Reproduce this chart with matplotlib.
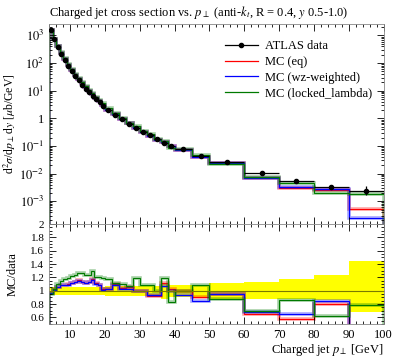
import matplotlib
matplotlib.use('Agg')
import matplotlib.pyplot as plt
from matplotlib.ticker import MultipleLocator, FuncFormatter, LogLocator, NullFormatter
from matplotlib.lines import Line2D
import numpy as np

plt.rcParams['font.family'] = ['Liberation Serif', 'DejaVu Serif']
plt.rcParams['mathtext.fontset'] = 'stix'
plt.rcParams['font.size'] = 9

# bin edges (GeV)
edges = [4, 5, 6, 7, 8, 9, 10, 11, 12, 13, 14, 15, 16, 17, 18, 19, 20,
         22, 24, 26, 28, 30, 32, 34, 36, 38, 40, 45, 50, 60, 70, 80, 90, 100]

# ATLAS data, d2sigma/dpT dy [mub/GeV]
data = [1600, 730, 380, 215, 128, 80, 52, 34, 23.5, 16.5, 11.8, 8.7, 6.5, 4.9, 3.75, 2.9,
        2.0, 1.35, 0.93, 0.64, 0.46, 0.33, 0.24, 0.175, 0.13, 0.10,
        0.075, 0.045, 0.026, 0.0105, 0.0052, 0.0032, 0.0024]

# relative data uncertainty (up / down)
err_up = [0.06] * 16 + [0.07] * 8 + [0.12, 0.08] + [0.09, 0.09, 0.11, 0.13, 0.17, 0.24, 0.44]
err_dn = [0.07] * 16 + [0.08] * 8 + [0.12, 0.09] + [0.10, 0.11, 0.12, 0.13, 0.13, 0.14, 0.32]

# MC / data ratios
ratio_eq = [0.96, 1.01, 1.05, 1.08, 1.09, 1.095, 1.11, 1.13, 1.155, 1.13, 1.12, 1.13, 1.18, 1.11, 1.09, 1.02,
            1.03, 1.095, 1.035, 1.06, 1.0, 0.995, 0.92, 0.92, 1.11, 1.02,
            0.99, 0.91, 0.955, 0.65, 0.58, 0.80, 0.21]
ratio_wz = [0.965, 1.015, 1.05, 1.08, 1.09, 1.09, 1.11, 1.125, 1.15, 1.125, 1.115, 1.125, 1.165, 1.10, 1.09, 1.015,
            1.025, 1.09, 1.03, 1.03, 0.99, 0.99, 0.94, 0.93, 1.065, 0.99,
            0.93, 0.85, 0.955, 0.68, 0.65, 0.84, 0.10]
ratio_ll = [0.95, 1.02, 1.10, 1.15, 1.18, 1.19, 1.22, 1.23, 1.26, 1.26, 1.24, 1.24, 1.30, 1.21, 1.20, 1.19,
            1.18, 1.12, 1.10, 1.07, 1.19, 1.09, 1.09, 0.99, 1.19, 0.83,
            1.0, 1.08, 0.88, 0.70, 0.86, 0.62, 0.79]

labels = ['MC (eq)', 'MC (wz-weighted)', 'MC (locked_lambda)']
colors = ['#ff0000', '#0000ff', '#007a00']

ratio_ticks = [0.6, 0.8, 1.0, 1.2, 1.4, 1.6, 1.8, 2.0]
ratio_ticklabels = ['0.6', '0.8', '1', '1.2', '1.4', '1.6', '1.8', '2']

edges = np.array(edges)
data = np.array(data)
centers = 0.5 * (edges[1:] + edges[:-1])
halfw = 0.5 * (edges[1:] - edges[:-1])
up = np.array(err_up)
dn = np.array(err_dn)
ratios = [np.array(ratio_eq), np.array(ratio_wz), np.array(ratio_ll)]

fig = plt.figure(figsize=(3.97, 3.58), dpi=100)
ax = fig.add_axes([0.124, 0.374, 0.842, 0.559])
rax = fig.add_axes([0.124, 0.095, 0.842, 0.279])

# main panel
for r, c in zip(ratios, colors):
    ax.stairs(r * data, edges, color=c, lw=2.6, alpha=0.35)
    ax.stairs(r * data, edges, color=c, lw=0.8)
ax.errorbar(centers, data, xerr=halfw, yerr=[data * dn, data * up], fmt='o', ms=3,
            color='black', lw=0.9, capsize=0, zorder=5)

ax.set_yscale('log')
ax.set_xlim(4, 100)
ax.set_ylim(1.48e-4, 2600)
ax.yaxis.set_major_locator(LogLocator(base=10, numticks=20))
ax.yaxis.set_minor_locator(LogLocator(base=10, subs=np.arange(2, 10), numticks=20))
ax.yaxis.set_minor_formatter(NullFormatter())


def logfmt(v, pos):
    e = int(round(np.log10(v)))
    if e == 0:
        return '1'
    return r'$10^{%d}$' % e


ax.yaxis.set_major_formatter(FuncFormatter(logfmt))
ax.set_ylabel(r'd$^2\sigma$/d$p_\perp$d$y$ [$\mu$b/GeV]', fontsize=8.5)
ax.yaxis.set_label_coords(-0.092, 0.5)
ax.set_title(r'Charged jet cross section vs. $p_\perp$ (anti-$k_t$, R = 0.4, $y$ 0.5-1.0)',
             loc='left', fontsize=9, pad=6)
ax.set_xticklabels([])

handles = [Line2D([], [], color='black', marker='o', ms=3, lw=0.9)]
handles += [Line2D([], [], color=c, lw=0.9) for c in colors]
ax.legend(handles, ['ATLAS data'] + labels, loc='upper right',
          bbox_to_anchor=(1.0, 0.975), frameon=False, handlelength=2.6,
          handletextpad=0.6, labelspacing=0.3, fontsize=9)

# ratio panel
rax.stairs(1 + up, edges, baseline=1 - dn, fill=True, color='#ffff00', lw=0)
rax.axhline(1, color='#7a7a00', lw=0.8)
for r, c in zip(ratios, colors):
    rax.stairs(r, edges, color=c, lw=2.6, alpha=0.35)
    rax.stairs(r, edges, color=c, lw=0.8)
rax.set_xlim(4, 100)
rax.set_ylim(0.5, 2.0)
rax.set_yticks(ratio_ticks, ratio_ticklabels, fontsize=8)
rax.yaxis.set_minor_locator(MultipleLocator(0.05))
rax.set_ylabel('MC/data')
rax.yaxis.set_label_coords(-0.092, 0.5)
rax.set_xlabel(r'Charged jet $p_\perp$ [GeV]', loc='right', labelpad=1)

for a in (ax, rax):
    a.xaxis.set_major_locator(MultipleLocator(10))
    a.xaxis.set_minor_locator(MultipleLocator(2))
    a.tick_params(which='both', direction='in', top=True, right=True, width=0.6)
    a.tick_params(which='major', length=5)
    a.tick_params(which='minor', length=2.5)
    for s in a.spines.values():
        s.set_linewidth(0.6)
        s.set_color('#888888')
ax.set_xticklabels([])

fig.savefig('out.png', dpi=100)
plt.close(fig)
